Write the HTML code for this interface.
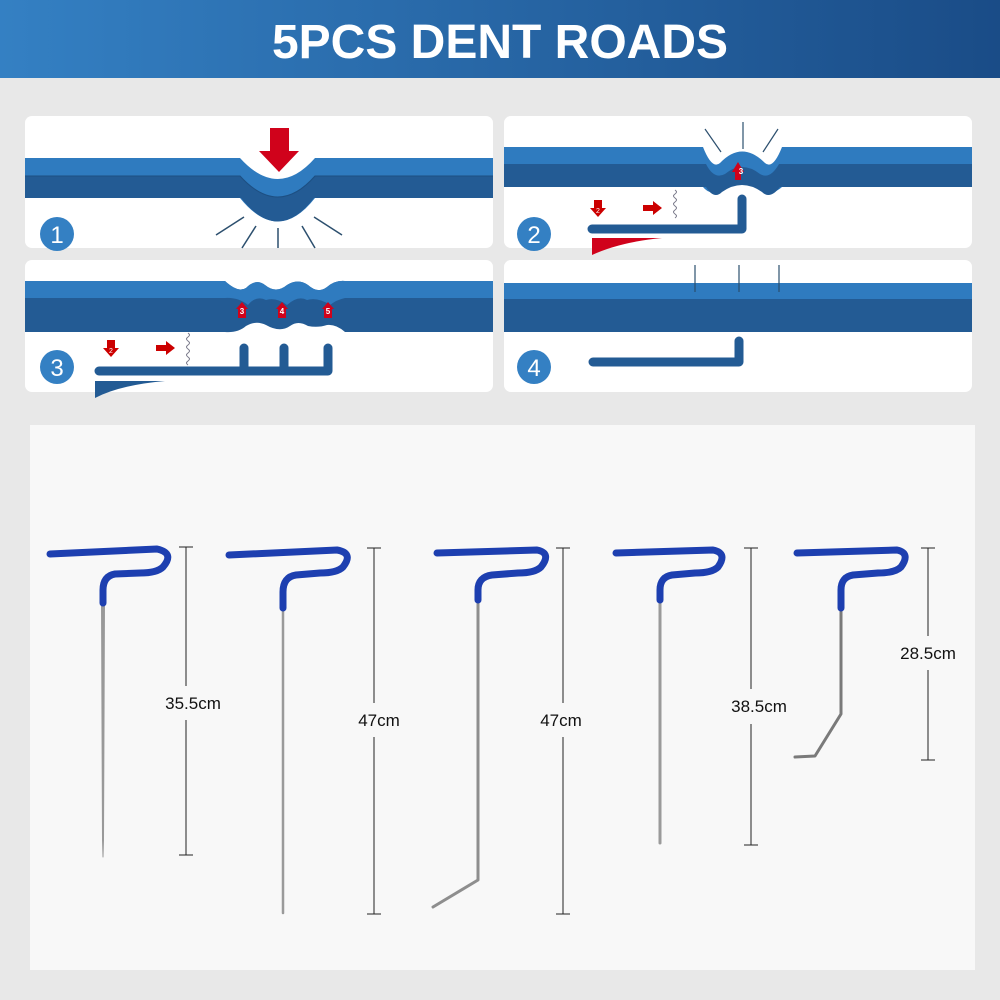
<!DOCTYPE html>
<html><head><meta charset="utf-8"><style>
html,body{margin:0;padding:0;width:1000px;height:1000px;overflow:hidden;background:#e8e8e8;font-family:"Liberation Sans",sans-serif}
</style></head><body>
<svg width="1000" height="1000" viewBox="0 0 1000 1000" xmlns="http://www.w3.org/2000/svg">
<defs>
<linearGradient id="hg" x1="0" x2="1" y1="0" y2="0"><stop offset="0" stop-color="#3480c3"/><stop offset="1" stop-color="#1a4c87"/></linearGradient>
</defs>
<rect x="0" y="0" width="1000" height="1000" fill="#e8e8e8"/>
<rect x="0" y="0" width="1000" height="78" fill="url(#hg)"/>
<text x="500" y="58" text-anchor="middle" font-size="48" font-weight="bold" fill="#fff" font-family="Liberation Sans, sans-serif" letter-spacing="0">5PCS DENT ROADS</text>

<rect x="25" y="116" width="468" height="132" rx="7" fill="#fff"/>
<rect x="504" y="116" width="468" height="132" rx="7" fill="#fff"/>
<rect x="25" y="260" width="468" height="132" rx="7" fill="#fff"/>
<rect x="504" y="260" width="468" height="132" rx="7" fill="#fff"/>

<!-- panel 1 -->
<path d="M25 158 H240 Q278 200 315 158 H493 V198 H315 Q278 245 240 198 H25Z" fill="#2f7bbf"/>
<path d="M25 176 H240 Q278 218 315 176 H493 V198 H314 Q278 245 241 198 H25Z" fill="#235b94"/>
<path d="M25 176 H240 Q278 218 315 176 H493" fill="none" stroke="#1d4f82" stroke-width="1"/>
<path d="M270 128 H289 V151 H299 L279 172 L259 151 H270Z" fill="#d0021b"/>
<g stroke="#2c4f6e" stroke-width="1.5"><line x1="216" y1="235" x2="244" y2="217"/><line x1="242" y1="248" x2="256" y2="226"/><line x1="278" y1="248" x2="278" y2="228"/><line x1="315" y1="248" x2="302" y2="226"/><line x1="342" y1="235" x2="314" y2="217"/></g>
<circle cx="57" cy="234" r="17" fill="#3480c3"/><text x="57" y="243" text-anchor="middle" font-size="24" fill="#fff">1</text>

<!-- panel 2 -->
<path d="M504 147 H703 Q712 170 720 163 Q742 140 765 163 Q773 170 782 147 H972 V187 H782 Q770 198 760 185 Q742 170 722 185 Q712 198 703 187 H504Z" fill="#2f7bbf"/>
<path d="M504 164 H706 Q714 180 725 174 Q742 160 760 174 Q770 180 779 164 H972 V187 H780 Q770 200 762 192 Q742 178 722 192 Q714 200 706 187 H504Z" fill="#235b94"/>
<path d="M738 162 L744 172 H741 V180 H735 V172 H732Z" fill="#d0021b"/><text x="741" y="174" font-size="8" font-weight="bold" fill="#fff" text-anchor="middle">3</text>
<g stroke="#2c4f6e" stroke-width="1.2"><line x1="705" y1="129" x2="721" y2="152"/><line x1="743" y1="122" x2="743" y2="149"/><line x1="778" y1="129" x2="763" y2="152"/></g>
<path d="M592 229 H742 V199" fill="none" stroke="#235b94" stroke-width="9" stroke-linecap="round" stroke-linejoin="round"/>
<path d="M592 238 L662 238 Q620 242 592 255Z" fill="#d0021b"/>
<path d="M594 200 H602 V208 H606 L598 217 L590 208 H594Z" fill="#c00"/><text x="598" y="213" font-size="7" fill="#fff" text-anchor="middle">2</text>
<path d="M643 205 H653 V201 L662 208 L653 215 V211 H643Z" fill="#c00"/>
<path d="M675 190 q3 2 0 4 q-3 2 0 4 q3 2 0 4 q-3 2 0 4 q3 2 0 4 q-3 2 0 4 q3 2 0 4" fill="none" stroke="#778" stroke-width="1"/>
<circle cx="534" cy="234" r="17" fill="#3480c3"/><text x="534" y="243" text-anchor="middle" font-size="24" fill="#fff">2</text>

<!-- panel 3 -->
<path d="M25 281 H225 Q238 293 246 288 Q256 278 265 285 Q276 294 287 285 Q298 278 308 285 Q318 294 327 287 Q335 280 345 281 H493 V332 H345 Q336 324 327 325 Q318 328 308 326 Q298 320 290 326 Q280 333 266 325 Q256 320 246 326 Q238 333 225 332 H25Z" fill="#235b94"/>
<path d="M25 281 H225 Q238 293 246 288 Q256 278 265 285 Q276 294 287 285 Q298 278 308 285 Q318 294 327 287 Q335 280 345 281 H493 V298 H345 Q336 300 330 305 Q318 297 307 300 Q298 295 287 305 Q276 297 266 300 Q256 295 248 305 Q238 297 225 298 H25Z" fill="#2f7bbf"/>
<g fill="#d0021b"><path d="M242 302 L248 309 H246 V318 H238 V309 H236Z"/><path d="M282 302 L288 309 H286 V318 H278 V309 H276Z"/><path d="M328 302 L334 309 H332 V318 H324 V309 H322Z"/></g>
<g font-size="8" font-weight="bold" fill="#fff" text-anchor="middle"><text x="242" y="314">3</text><text x="282" y="314">4</text><text x="328" y="314">5</text></g>
<path d="M99 371 H328 M244 371 V348 M284 371 V348 M328 371 V348" fill="none" stroke="#235b94" stroke-width="9" stroke-linecap="round" stroke-linejoin="round"/>
<path d="M95 381 L165 381 Q120 385 95 398Z" fill="#235b94"/>
<path d="M107 340 H115 V348 H119 L111 357 L103 348 H107Z" fill="#c00"/><text x="111" y="353" font-size="7" fill="#fff" text-anchor="middle">2</text>
<path d="M156 345 H166 V341 L175 348 L166 355 V351 H156Z" fill="#c00"/>
<path d="M188 333 q3 2 0 4 q-3 2 0 4 q3 2 0 4 q-3 2 0 4 q3 2 0 4 q-3 2 0 4 q3 2 0 4 q-3 2 0 4" fill="none" stroke="#778" stroke-width="1"/>
<circle cx="57" cy="367" r="17" fill="#3480c3"/><text x="57" y="376" text-anchor="middle" font-size="24" fill="#fff">3</text>

<!-- panel 4 -->
<rect x="504" y="283" width="468" height="16" fill="#2f7bbf"/>
<rect x="504" y="299" width="468" height="33" fill="#235b94"/>
<g stroke="#2c4f6e" stroke-width="1.2"><line x1="695" y1="265" x2="695" y2="292"/><line x1="739" y1="265" x2="739" y2="292"/><line x1="779" y1="265" x2="779" y2="292"/></g>
<path d="M593 362 H739 V341" fill="none" stroke="#235b94" stroke-width="9" stroke-linecap="round" stroke-linejoin="round"/>
<circle cx="534" cy="367" r="17" fill="#3480c3"/><text x="534" y="376" text-anchor="middle" font-size="24" fill="#fff">4</text>

<rect x="30" y="425" width="945" height="545" fill="#f8f8f8"/>

<g fill="none" stroke-linecap="round" stroke-linejoin="round">
<path d="M101.5 603 L104.5 603 L103.5 840 L103 857 L102.5 840Z" fill="#999" stroke="#999" stroke-width="1"/>
<path d="M50 554 L157 549 Q175 553 163 567 Q157 573 140 573 L115 574 Q103 576 103 590 V603" stroke="#1d3fb0" stroke-width="7"/>
<path d="M283 608 V913" stroke="#9a9a9a" stroke-width="2.5"/>
<path d="M229 555 L337 550 Q354 553 343 567 Q337 573 320 573 L296 575 Q283 577 283 592 V608" stroke="#1d3fb0" stroke-width="7"/>
<path d="M478 600 V880 L433 907" stroke="#8e8e8e" stroke-width="3"/>
<path d="M437 553 L537 550 Q552 553 541 567 Q535 573 518 573 L492 575 Q478 577 478 590 V600" stroke="#1d3fb0" stroke-width="7"/>
<path d="M660 600 V843" stroke="#9a9a9a" stroke-width="3"/>
<path d="M616 553 L713 550 Q728 553 718 567 Q712 573 695 573 L672 575 Q660 577 660 590 V600" stroke="#1d3fb0" stroke-width="7"/>
<path d="M841 608 V714 L815 756 L795 757" stroke="#7a7a7a" stroke-width="3"/>
<path d="M797 553 L897 550 Q911 553 901 567 Q895 573 878 573 L853 575 Q841 577 841 590 V608" stroke="#1d3fb0" stroke-width="7"/>
</g>

<g stroke="#222" stroke-width="1">
<line x1="186" y1="547" x2="186" y2="686"/><line x1="186" y1="720" x2="186" y2="855"/><line x1="179" y1="547" x2="193" y2="547"/><line x1="179" y1="855" x2="193" y2="855"/>
<line x1="374" y1="548" x2="374" y2="703"/><line x1="374" y1="737" x2="374" y2="914"/><line x1="367" y1="548" x2="381" y2="548"/><line x1="367" y1="914" x2="381" y2="914"/>
<line x1="563" y1="548" x2="563" y2="703"/><line x1="563" y1="737" x2="563" y2="914"/><line x1="556" y1="548" x2="570" y2="548"/><line x1="556" y1="914" x2="570" y2="914"/>
<line x1="751" y1="548" x2="751" y2="689"/><line x1="751" y1="724" x2="751" y2="845"/><line x1="744" y1="548" x2="758" y2="548"/><line x1="744" y1="845" x2="758" y2="845"/>
<line x1="928" y1="548" x2="928" y2="636"/><line x1="928" y1="670" x2="928" y2="760"/><line x1="921" y1="548" x2="935" y2="548"/><line x1="921" y1="760" x2="935" y2="760"/>
</g>
<g font-size="17" fill="#111" text-anchor="middle">
<text x="193" y="709">35.5cm</text>
<text x="379" y="726">47cm</text>
<text x="561" y="726">47cm</text>
<text x="759" y="712">38.5cm</text>
<text x="928" y="659">28.5cm</text>
</g>
</svg>
</body></html>
